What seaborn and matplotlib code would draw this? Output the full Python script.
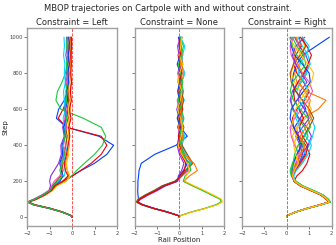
import matplotlib
matplotlib.use("Agg")
import matplotlib.pyplot as plt
import seaborn as sns
import pandas as pd

STEPS = [0, 10, 30, 50, 70, 85, 100, 125, 150, 175, 200, 230, 260, 300, 350,
         400, 450, 500, 550, 600, 650, 700, 750, 800, 850, 900, 950, 1000]

# Constraint = Left
LEFT_RUNS = [
    [0.00, -0.05, -0.44, -0.99, -1.69, -1.96, -1.62, -1.20, -0.90, -0.74, -0.45, 0.00, 0.40, 1.00, 1.55, 1.85, 1.20, -0.25, -0.70, -0.60, -0.35, -0.20, -0.28, -0.15, -0.20, -0.10, -0.15, -0.08],
    [0.00, -0.06, -0.47, -1.03, -1.73, -1.99, -1.70, -1.30, -0.98, -0.82, -0.42, 0.02, 0.38, 0.85, 1.30, 1.55, 1.30, -0.25, -0.62, -0.40, -0.25, -0.15, -0.22, -0.10, -0.12, -0.05, -0.10, -0.05],
    [0.00, -0.04, -0.42, -0.96, -1.66, -1.94, -1.60, -1.18, -0.88, -0.70, -0.30, -0.02, 0.20, 0.55, 1.00, 1.35, 1.50, 1.30, 0.50, -0.50, -0.72, -0.65, -0.45, -0.30, -0.22, -0.18, -0.22, -0.15],
    [0.00, -0.06, -0.47, -1.02, -1.72, -1.98, -1.72, -1.33, -1.03, -0.96, -1.00, -0.95, -0.80, -0.60, -0.48, -0.50, -0.35, -0.42, -0.30, -0.35, -0.28, -0.22, -0.30, -0.25, -0.20, -0.28, -0.22, -0.25],
    [0.00, -0.05, -0.45, -1.00, -1.69, -1.95, -1.66, -1.27, -0.96, -0.86, -0.65, -0.35, -0.30, -0.38, -0.30, -0.20, -0.28, -0.35, -0.40, -0.30, -0.35, -0.38, -0.30, -0.35, -0.32, -0.38, -0.34, -0.36],
    [0.00, -0.05, -0.45, -1.01, -1.71, -1.97, -1.64, -1.22, -0.92, -0.78, -0.45, -0.15, -0.22, -0.30, -0.20, -0.12, -0.18, -0.10, -0.15, -0.08, -0.12, -0.05, -0.10, -0.06, -0.08, -0.04, -0.06, -0.05],
    [0.00, -0.04, -0.41, -0.95, -1.65, -1.93, -1.58, -1.16, -0.86, -0.68, -0.25, -0.10, -0.20, -0.25, -0.15, -0.22, -0.12, -0.20, -0.10, -0.18, -0.08, -0.15, -0.12, -0.10, -0.14, -0.12, -0.10, -0.12],
    [0.00, -0.05, -0.46, -1.02, -1.72, -1.98, -1.68, -1.29, -0.99, -0.88, -0.70, -0.50, -0.40, -0.45, -0.35, -0.28, -0.22, -0.28, -0.18, -0.22, -0.15, -0.20, -0.18, -0.15, -0.20, -0.16, -0.18, -0.20],
    [0.00, -0.06, -0.48, -1.04, -1.74, -2.00, -1.71, -1.31, -1.00, -0.91, -0.80, -0.55, -0.45, -0.50, -0.40, -0.30, -0.35, -0.25, -0.32, -0.22, -0.28, -0.20, -0.25, -0.18, -0.24, -0.20, -0.22, -0.18],
    [0.00, -0.05, -0.44, -0.99, -1.69, -1.96, -1.65, -1.25, -0.94, -0.82, -0.55, -0.40, -0.48, -0.55, -0.42, -0.45, -0.30, -0.38, -0.25, -0.30, -0.20, -0.25, -0.15, -0.20, -0.12, -0.18, -0.10, -0.15],
    [0.00, -0.04, -0.43, -0.97, -1.67, -1.94, -1.61, -1.21, -0.91, -0.76, -0.40, -0.18, -0.30, -0.35, -0.25, -0.18, -0.10, -0.15, -0.05, -0.12, -0.03, -0.08, -0.02, -0.06, -0.03, -0.05, -0.02, -0.03],
    [0.00, -0.05, -0.46, -1.01, -1.71, -1.97, -1.67, -1.28, -0.97, -0.85, -0.60, -0.45, -0.55, -0.45, -0.35, -0.40, -0.32, -0.30, -0.25, -0.32, -0.25, -0.28, -0.20, -0.22, -0.25, -0.20, -0.24, -0.22],
]

# Constraint = None
NONE_RUNS = [
    [0.00, -0.05, -0.55, -1.15, -1.65, -1.85, -1.82, -1.85, -1.86, -1.85, -1.85, -1.82, -1.80, -1.70, -1.10, -0.15, 0.35, 0.05, 0.12, -0.05, 0.08, 0.15, -0.03, 0.10, 0.00, 0.12, -0.02, 0.05],
    [0.00, -0.05, -0.55, -1.15, -1.65, -1.88, -1.80, -1.45, -1.05, -0.70, -0.15, 0.10, 0.35, 0.45, 0.10, 0.00, 0.12, -0.08, 0.04, 0.15, 0.06, -0.05, 0.05, 0.12, 0.03, -0.06, 0.04, 0.10],
    [0.00, -0.06, -0.57, -1.18, -1.68, -1.91, -1.84, -1.50, -1.10, -0.75, -0.20, 0.05, 0.25, 0.55, 0.25, 0.05, 0.20, 0.00, -0.08, -0.03, 0.10, 0.18, 0.07, -0.05, 0.05, 0.15, 0.04, -0.02],
    [0.00, -0.04, -0.52, -1.12, -1.62, -1.85, -1.74, -1.38, -0.97, -0.62, -0.08, -0.05, 0.10, 0.20, 0.00, -0.10, -0.02, 0.10, 0.00, -0.12, 0.02, 0.08, -0.06, -0.03, 0.10, -0.02, -0.08, 0.04],
    [0.00, -0.05, -0.56, -1.16, -1.67, -1.90, -1.82, -1.48, -1.08, -0.73, -0.18, 0.08, 0.30, 0.50, 0.30, 0.10, 0.25, 0.05, 0.18, 0.02, 0.22, 0.04, 0.10, 0.25, 0.08, 0.14, 0.24, 0.05],
    [0.00, -0.04, -0.53, -1.13, -1.63, -1.86, -1.76, -1.40, -1.00, -0.65, -0.11, 0.12, 0.40, 0.30, 0.05, -0.05, 0.02, -0.06, 0.10, -0.02, -0.10, 0.06, 0.02, -0.08, 0.03, 0.10, 0.02, -0.05],
    [0.00, -0.05, -0.54, -1.14, -1.64, -1.89, -1.79, -1.43, -1.03, -0.68, -0.13, 0.00, 0.18, 0.35, 0.20, 0.05, -0.05, 0.05, -0.10, 0.06, 0.00, -0.08, 0.01, 0.04, -0.10, 0.03, 0.08, -0.04],
    [0.00, -0.06, -0.58, -1.19, -1.69, -1.92, -1.85, -1.52, -1.12, -0.78, -0.22, 0.10, 0.28, 0.60, 0.35, 0.12, 0.05, 0.20, 0.04, 0.10, 0.18, 0.08, 0.00, 0.07, 0.15, 0.06, 0.00, 0.12],
    [0.00, -0.05, -0.54, -1.14, -1.64, -1.87, -1.77, -1.42, -1.02, -0.66, -0.12, 0.02, 0.22, 0.28, 0.08, 0.02, -0.04, 0.03, -0.02, 0.08, -0.01, 0.02, 0.12, 0.01, -0.01, 0.06, 0.00, 0.01],
    [0.00, 0.05, 0.55, 1.15, 1.65, 1.88, 1.84, 1.44, 1.04, 0.60, 0.20, 0.45, 0.80, 0.65, 0.20, 0.05, 0.15, -0.05, 0.12, 0.02, 0.15, -0.02, 0.10, 0.20, 0.04, 0.12, 0.03, 0.08],
    [0.00, 0.04, 0.53, 1.13, 1.62, 1.86, 1.82, 1.42, 1.01, 0.58, 0.17, 0.25, 0.50, 0.45, 0.15, 0.08, 0.00, 0.10, 0.20, 0.08, -0.05, 0.06, 0.15, 0.05, -0.04, 0.08, 0.18, 0.03],
    [0.00, 0.06, 0.57, 1.17, 1.68, 1.91, 1.88, 1.50, 1.10, 0.66, 0.25, 0.30, 0.45, 0.35, 0.10, -0.05, 0.08, 0.15, 0.05, -0.08, 0.04, 0.12, -0.05, 0.00, 0.15, -0.02, 0.06, 0.10],
]

# Constraint = Right
RIGHT_RUNS = [
    [0.00, 0.02, 0.40, 0.92, 1.50, 1.90, 1.80, 1.55, 1.10, 0.65, 0.35, 0.25, 0.30, 0.55, 0.80, 0.70, 0.45, 0.35, 0.60, 0.85, 0.70, 0.40, 0.25, 0.30, 0.45, 0.70, 1.30, 1.90],
    [0.00, 0.02, 0.42, 0.95, 1.54, 1.93, 1.84, 1.60, 1.16, 0.70, 0.40, 0.28, 0.40, 0.65, 0.90, 0.75, 0.50, 0.45, 0.70, 1.40, 1.75, 0.85, 0.45, 0.35, 0.55, 0.80, 0.60, 0.40],
    [0.00, 0.02, 0.38, 0.90, 1.47, 1.88, 1.77, 1.51, 1.05, 0.60, 0.32, 0.45, 0.70, 0.90, 1.03, 0.85, 0.55, 0.30, 0.25, 0.45, 0.80, 1.00, 0.75, 0.45, 0.30, 0.40, 0.65, 0.55],
    [0.00, 0.02, 0.43, 0.96, 1.55, 1.95, 1.87, 1.62, 1.18, 0.72, 0.42, 0.20, 0.15, 0.25, 0.45, 0.70, 0.95, 0.80, 0.50, 0.25, 0.20, 0.35, 0.65, 0.90, 0.75, 0.45, 0.25, 0.20],
    [0.00, 0.02, 0.39, 0.91, 1.49, 1.89, 1.78, 1.53, 1.08, 0.63, 0.33, 0.22, 0.25, 0.40, 0.65, 0.95, 1.10, 0.90, 0.55, 0.30, 0.15, 0.25, 0.50, 0.80, 1.00, 0.85, 0.55, 0.35],
    [0.00, 0.02, 0.41, 0.94, 1.52, 1.92, 1.83, 1.58, 1.13, 0.68, 0.38, 0.30, 0.35, 0.50, 0.75, 1.00, 1.15, 1.25, 1.10, 0.80, 0.55, 0.45, 0.60, 0.85, 1.05, 0.95, 0.70, 0.50],
    [0.00, 0.02, 0.40, 0.93, 1.51, 1.91, 1.81, 1.56, 1.11, 0.66, 0.36, 0.25, 0.28, 0.35, 0.50, 0.40, 0.25, 0.45, 0.85, 1.10, 0.90, 0.60, 0.35, 0.20, 0.30, 0.55, 0.80, 0.65],
    [0.00, 0.02, 0.38, 0.89, 1.46, 1.87, 1.76, 1.50, 1.04, 0.59, 0.31, 0.28, 0.32, 0.45, 0.60, 0.55, 0.75, 1.00, 1.20, 1.00, 0.70, 0.40, 0.20, 0.15, 0.30, 0.60, 0.85, 0.70],
    [0.00, 0.02, 0.42, 0.94, 1.53, 1.92, 1.82, 1.57, 1.12, 0.67, 0.37, 0.26, 0.30, 0.42, 0.55, 0.35, 0.20, 0.15, 0.35, 0.65, 0.95, 1.15, 1.00, 0.70, 0.40, 0.20, 0.15, 0.30],
    [0.00, 0.02, 0.41, 0.92, 1.50, 1.90, 1.79, 1.54, 1.09, 0.64, 0.34, 0.24, 0.22, 0.30, 0.45, 0.65, 0.50, 0.30, 0.15, 0.20, 0.45, 0.75, 1.05, 1.00, 0.70, 0.35, 0.20, 0.15],
    [0.00, 0.02, 0.39, 0.91, 1.48, 1.89, 1.79, 1.52, 1.07, 0.62, 0.33, 0.27, 0.38, 0.60, 0.85, 0.95, 0.70, 0.55, 0.75, 0.55, 0.35, 0.30, 0.50, 0.75, 0.95, 1.10, 0.90, 0.60],
    [0.00, 0.02, 0.43, 0.95, 1.54, 1.94, 1.85, 1.61, 1.17, 0.71, 0.41, 0.23, 0.20, 0.28, 0.35, 0.50, 0.80, 1.05, 0.95, 0.60, 0.30, 0.15, 0.25, 0.55, 0.85, 0.75, 0.45, 0.25],
    [0.00, 0.02, 0.40, 0.92, 1.50, 1.90, 1.80, 1.55, 1.10, 0.65, 0.35, 0.29, 0.36, 0.55, 0.70, 0.60, 0.40, 0.70, 1.00, 0.80, 0.50, 0.60, 0.90, 0.65, 0.40, 0.25, 0.40, 0.80],
    [0.00, 0.02, 0.41, 0.93, 1.52, 1.91, 1.82, 1.57, 1.12, 0.66, 0.36, 0.31, 0.42, 0.70, 0.95, 1.10, 0.85, 0.60, 0.40, 0.50, 0.75, 0.95, 0.80, 0.50, 0.60, 0.85, 1.00, 0.70],
    [0.00, 0.02, 0.39, 0.90, 1.48, 1.88, 1.77, 1.52, 1.06, 0.61, 0.32, 0.25, 0.30, 0.48, 0.62, 0.80, 0.60, 0.85, 1.10, 0.95, 1.05, 0.80, 0.55, 0.70, 0.50, 0.30, 0.50, 0.45],
    [0.00, 0.02, 0.40, 0.92, 1.51, 1.90, 1.81, 1.56, 1.11, 0.66, 0.37, 0.26, 0.34, 0.52, 0.40, 0.30, 0.45, 0.20, 0.30, 0.40, 0.60, 0.85, 1.10, 1.20, 0.95, 0.65, 0.35, 0.10],
]

CONSTRAINTS = ["Left", "None", "Right"]

# which "bright" colour each run gets (in drawing order)
LEFT_COLORS = [0, 3, 2, 4, 9, 1, 8, 5, 6, 0, 3, 2]
NONE_COLORS = [0, 3, 2, 4, 9, 6, 0, 5, 3, 1, 2, 8]
RIGHT_COLORS = [0, 1, 3, 2, 4, 9, 8, 5, 6, 0, 3, 2, 4, 9, 1, 8]

sns.set_theme(style="white")
plt.rcParams['font.family'] = ['DejaVu Sans']

# long format table
frames = []
for name, runs in zip(CONSTRAINTS, [LEFT_RUNS, NONE_RUNS, RIGHT_RUNS]):
    for i, xs in enumerate(runs):
        frames.append(pd.DataFrame({"constraint": name, "run": i, "step": STEPS, "position": xs}))
df = pd.concat(frames, ignore_index=True)

bright = sns.color_palette("bright")

fig, axes = plt.subplots(1, 3, figsize=(3.36, 2.45), dpi=100, sharey=True)
fig.subplots_adjust(left=0.081, right=0.987, top=0.885, bottom=0.076, wspace=0.196)

for ax, name, cidx in zip(axes, CONSTRAINTS, [LEFT_COLORS, NONE_COLORS, RIGHT_COLORS]):
    sub = df[df["constraint"] == name]
    pal = [bright[c] for c in cidx]
    sns.lineplot(data=sub, x="position", y="step", hue="run", palette=pal,
                 sort=False, estimator=None, legend=False, lw=0.8, ax=ax)
    ax.axvline(0, color="red", ls="--", lw=0.6, alpha=0.8)
    ax.set_xlim(-2, 2)
    ax.set_ylim(-50, 1050)
    ax.set_xticks([-2, -1, 0, 1, 2])
    ax.set_yticks([0, 200, 400, 600, 800, 1000])
    ax.set_title(f"Constraint = {name}", fontsize=6, pad=2)
    ax.set_xlabel("")
    ax.set_ylabel("")
    ax.tick_params(labelsize=3.8, length=2, width=0.5, pad=1, colors="#444444",
                   bottom=True, left=True)
    for sp in ax.spines.values():
        sp.set_color("#a0a0a0")
        sp.set_linewidth(1.0)

axes[0].set_ylabel("Step", fontsize=5, labelpad=1)
axes[1].set_xlabel("Rail Position", fontsize=5, labelpad=1)
fig.suptitle("MBOP trajectories on Cartpole with and without constraint.", fontsize=6, y=0.985)

fig.savefig("out.png", dpi=100)
